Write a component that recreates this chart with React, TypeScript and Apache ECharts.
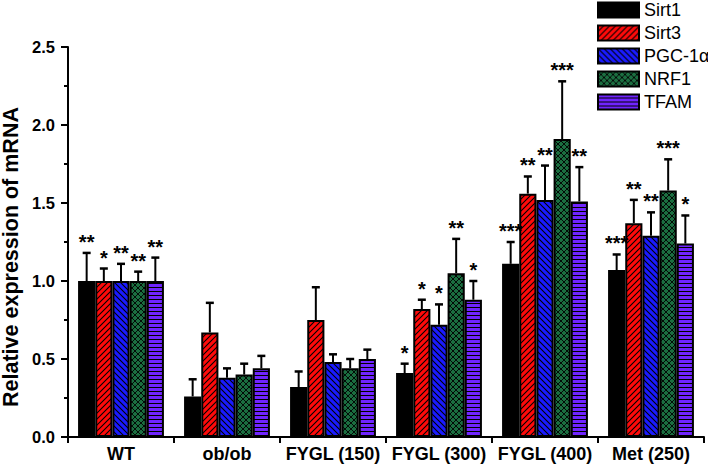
import React, { useEffect, useRef } from "react";
import * as echarts from "echarts";

const categories = ["WT", "ob/ob", "FYGL (150)", "FYGL (300)", "FYGL (400)", "Met (250)"];
const geneNames = ["Sirt1", "Sirt3", "PGC-1α", "NRF1", "TFAM"];
const yAxisTitle = "Relative expression of mRNA";

const sirt1 = [1.0, 0.26, 0.32, 0.41, 1.11, 1.07];
const sirt3 = [1.0, 0.67, 0.75, 0.82, 1.56, 1.37];
const pgc1a = [1.0, 0.38, 0.48, 0.72, 1.52, 1.29];
const nrf1 = [1.0, 0.40, 0.44, 1.05, 1.91, 1.58];
const tfam = [1.0, 0.44, 0.50, 0.88, 1.51, 1.24];

const sirt1Err = [0.18, 0.11, 0.10, 0.06, 0.14, 0.10];
const sirt3Err = [0.08, 0.19, 0.21, 0.06, 0.11, 0.15];
const pgc1aErr = [0.11, 0.06, 0.05, 0.13, 0.22, 0.15];
const nrf1Err = [0.06, 0.07, 0.06, 0.22, 0.37, 0.20];
const tfamErr = [0.15, 0.08, 0.06, 0.12, 0.22, 0.18];

const sirt1Sig = ["**", "", "", "*", "***", "***"];
const sirt3Sig = ["*", "", "", "*", "**", "**"];
const pgc1aSig = ["**", "", "", "*", "**", "**"];
const nrf1Sig = ["**", "", "", "**", "***", "***"];
const tfamSig = ["**", "", "", "*", "**", "*"];

const yTicks = [0, 0.5, 1.0, 1.5, 2.0, 2.5];

const values = [sirt1, sirt3, pgc1a, nrf1, tfam];
const errors = [sirt1Err, sirt3Err, pgc1aErr, nrf1Err, tfamErr];
const sigs = [sirt1Sig, sirt3Sig, pgc1aSig, nrf1Sig, tfamSig];

const FONT = "Arial, 'Liberation Sans', Helvetica, sans-serif";

function svgPattern(svg: string, w: number, h: number) {
  return {
    image: "data:image/svg+xml;charset=utf-8," + encodeURIComponent(svg),
    repeat: "repeat",
    imageWidth: w,
    imageHeight: h,
  } as any;
}

const S = 6;
const redPat = svgPattern(
  `<svg xmlns="http://www.w3.org/2000/svg" width="${S}" height="${S}"><rect width="${S}" height="${S}" fill="#ff0a0a"/><path d="M0 ${S} L${S} 0 M-1 1 L1 -1 M${S - 1} ${S + 1} L${S + 1} ${S - 1}" stroke="#000" stroke-width="1.1"/></svg>`,
  S,
  S
);
const bluePat = svgPattern(
  `<svg xmlns="http://www.w3.org/2000/svg" width="${S}" height="${S}"><rect width="${S}" height="${S}" fill="#1a1aff"/><path d="M0 0 L${S} ${S} M-1 ${S - 1} L1 ${S + 1} M${S - 1} -1 L${S + 1} 1" stroke="#000" stroke-width="1.1"/></svg>`,
  S,
  S
);
const greenPat = svgPattern(
  `<svg xmlns="http://www.w3.org/2000/svg" width="${S}" height="${S}"><rect width="${S}" height="${S}" fill="#1b6e40"/><path d="M0 ${S} L${S} 0 M-1 1 L1 -1 M${S - 1} ${S + 1} L${S + 1} ${S - 1} M0 0 L${S} ${S} M-1 ${S - 1} L1 ${S + 1} M${S - 1} -1 L${S + 1} 1" stroke="#000" stroke-width="0.9"/></svg>`,
  S,
  S
);
const purplePat = svgPattern(
  `<svg xmlns="http://www.w3.org/2000/svg" width="4" height="4"><rect width="4" height="4" fill="#7024ff"/><rect y="3" width="4" height="1" fill="#000"/></svg>`,
  4,
  4
);

const fills = ["#000000", redPat, bluePat, greenPat, purplePat];
const CAT_GAP = 0.19;

export default function App() {
  const ref = useRef<HTMLDivElement>(null);
  useEffect(() => {
    if (!ref.current) return;
    const chart = echarts.init(ref.current, null, { renderer: "svg" });

    const errData: any[] = [];
    values.forEach((arr, s) => {
      arr.forEach((v, c) => {
        errData.push([c, s, v, v + errors[s][c], sigs[s][c]]);
      });
    });

    const barSeries = values.map((arr, s) => ({
      name: geneNames[s],
      type: "bar",
      data: arr,
      barGap: "0%",
      barCategoryGap: CAT_GAP * 100 + "%",
      itemStyle: { color: fills[s], borderColor: "#000", borderWidth: 2 },
      emphasis: { disabled: true },
      z: 2,
    }));

    const option: any = {
      animation: false,
      textStyle: { fontFamily: FONT },
      grid: { left: 68, right: 4, top: 47, bottom: 32 },
      graphic: [
        {
          type: "text",
          x: 11,
          y: 257,
          rotation: Math.PI / 2,
          style: {
            text: yAxisTitle,
            align: "center",
            verticalAlign: "middle",
            fill: "#000",
            font: `bold 21.5px ${FONT}`,
          },
        },
      ],
      legend: {
        orient: "vertical",
        left: 592,
        top: -4,
        itemWidth: 41,
        itemHeight: 15,
        itemGap: 5,
        selectedMode: false,
        data: geneNames,
        icon: "rect",
        textStyle: { fontSize: 18, color: "#000", fontFamily: FONT, padding: [0, 0, 0, 0] },
        itemStyle: { borderColor: "#000", borderWidth: 2 },
      },
      xAxis: {
        type: "category",
        data: categories,
        axisLine: { lineStyle: { color: "#000", width: 2 } },
        axisTick: { show: true, length: 6, lineStyle: { color: "#000", width: 2 } },
        axisLabel: { color: "#000", fontWeight: "bold", fontSize: 18, margin: 8, interval: 0, hideOverlap: false },
      },
      yAxis: {
        type: "value",
        min: 0,
        max: 2.5,
        interval: 0.5,
        axisLine: { show: true, lineStyle: { color: "#000", width: 2 } },
        axisTick: { show: true, length: 7, lineStyle: { color: "#000", width: 2 } },
        minorTick: { show: true, splitNumber: 2, length: 4, lineStyle: { color: "#000", width: 2 } },
        splitLine: { show: false },
        axisLabel: {
          color: "#000",
          fontWeight: "bold",
          fontSize: 16.5,
          margin: 13,
          formatter: (v: number) => (yTicks.indexOf(v) >= 0 ? v.toFixed(1) : ""),
        },
      },
      series: [
        ...barSeries,
        {
          type: "custom",
          data: errData,
          z: 3,
          silent: true,
          renderItem: (params: any, api: any) => {
            const c = api.value(0);
            const s = api.value(1);
            const v = api.value(2);
            const top = api.value(3);
            const sig = errData[params.dataIndex][4];
            const bandW = api.size([1, 0])[0];
            const groupW = bandW * (1 - CAT_GAP);
            const barW = groupW / 5;
            const center = api.coord([c, 0])[0];
            const x = center - groupW / 2 + barW * (s + 0.5);
            const y0 = api.coord([c, v])[1];
            const y1 = api.coord([c, top])[1];
            const children: any[] = [
              { type: "line", shape: { x1: x, y1: y0, x2: x, y2: y1 }, style: { stroke: "#000", lineWidth: 2 } },
              { type: "line", shape: { x1: x - 4, y1: y1, x2: x + 4, y2: y1 }, style: { stroke: "#000", lineWidth: 2.5 } },
            ];
            if (sig) {
              children.push({
                type: "text",
                style: {
                  text: sig,
                  x: x,
                  y: y1 - 1,
                  align: "center",
                  verticalAlign: "bottom",
                  fill: "#000",
                  font: `bold 20px ${FONT}`,
                },
              });
            }
            return { type: "group", children };
          },
        },
      ],
    };
    chart.setOption(option);
    return () => chart.dispose();
  }, []);
  return <div ref={ref} style={{ position: "absolute", left: 0, top: 0, width: 708, height: 469 }} />;
}
